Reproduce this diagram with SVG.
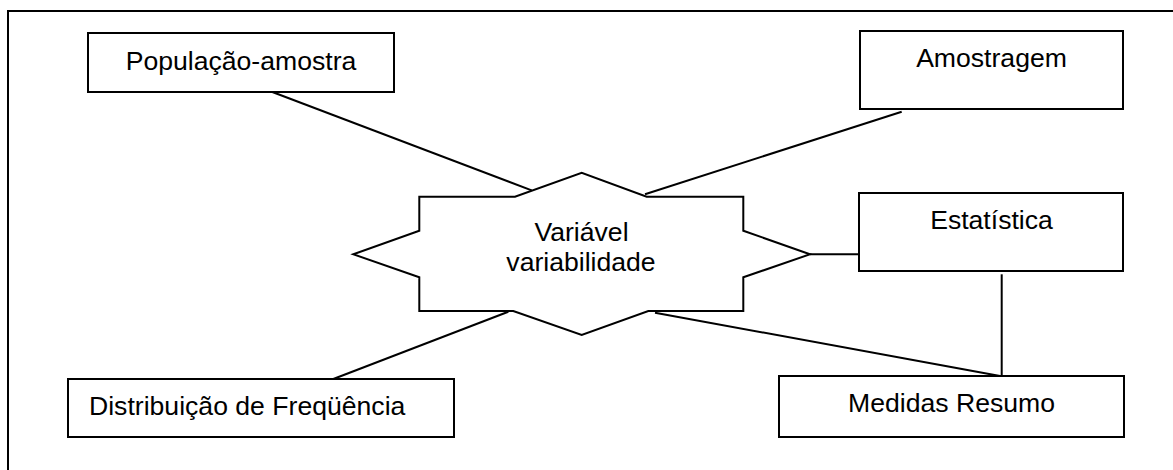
<svg xmlns="http://www.w3.org/2000/svg" width="1173" height="470" viewBox="0 0 1173 470">
<style>
.box{fill:#fff;stroke:#000;stroke-width:2}
.lbl{font-family:"Liberation Sans",Arial,sans-serif;font-size:26.6px;fill:#000}
.c{text-anchor:middle}
.con line{stroke:#000;stroke-width:2}
</style>
<rect x="0" y="0" width="1173" height="470" fill="#fff"/>
<rect x="8" y="11" width="1200" height="500" fill="none" stroke="#000" stroke-width="2"/>
<g id="connectors" class="con">
<line x1="271.7" y1="91.7" x2="531.7" y2="190.4"/>
<line x1="901.7" y1="111.7" x2="645" y2="194.3"/>
<line x1="810" y1="254.3" x2="859" y2="254.3"/>
<line x1="1001.7" y1="274.3" x2="1001.7" y2="376"/>
<line x1="655" y1="312.7" x2="1000" y2="376"/>
<line x1="508.3" y1="311.7" x2="333.3" y2="379"/>
</g>
<g id="n-populacao">
<rect class="box" x="88" y="33" width="306" height="59"/>
<text class="lbl c" x="241" y="69.5">População-amostra</text>
</g>
<g id="n-amostragem">
<rect class="box" x="860" y="31" width="263" height="78"/>
<text class="lbl c" x="991.5" y="67">Amostragem</text>
</g>
<g id="n-estatistica">
<rect class="box" x="859" y="193" width="264" height="78"/>
<text class="lbl c" x="991.5" y="228.5">Estatística</text>
</g>
<g id="n-medidas">
<rect class="box" x="779" y="376" width="345" height="61"/>
<text class="lbl c" x="951.5" y="412">Medidas Resumo</text>
</g>
<g id="n-distribuicao">
<rect class="box" x="68" y="379" width="386" height="58"/>
<text class="lbl" x="89" y="415">Distribuição de Freqüência</text>
</g>
<g id="n-variavel">
<polygon class="box" points="419.3,196.7 515,196.7 581.7,172.7 646.7,196.7 743.3,196.7 743.3,230.7 810,254.3 743.3,277.3 743.3,311 648.3,311 581.7,335 513.3,311 419.3,311 419.3,277.3 353.3,254.3 419.3,230.7"/>
<text class="lbl c" x="581.5" y="241">Variável</text>
<text class="lbl c" x="581" y="270.5">variabilidade</text>
</g>
</svg>
